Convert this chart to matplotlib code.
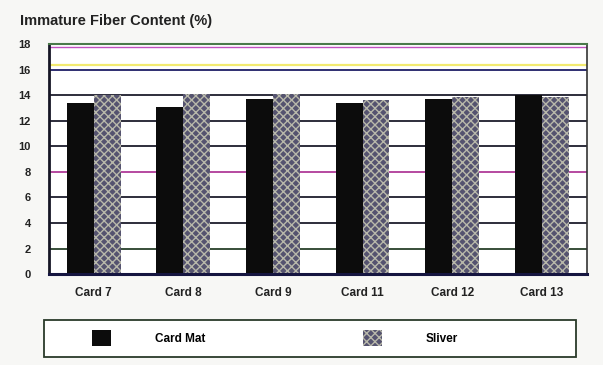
import matplotlib
matplotlib.use("Agg")
import matplotlib.pyplot as plt
from matplotlib.patches import Rectangle
import numpy as np

categories = ["Card 7", "Card 8", "Card 9", "Card 11", "Card 12", "Card 13"]
card_mat = [13.4, 13.1, 13.7, 13.4, 13.7, 14.0]
sliver = [14.0, 14.1, 14.1, 13.6, 13.9, 13.9]
series_names = ["Card Mat", "Sliver"]
yticks = [0, 2, 4, 6, 8, 10, 12, 14, 16, 18]

plt.rcParams["font.family"] = ["Liberation Sans", "DejaVu Sans"]
plt.rcParams["hatch.linewidth"] = 1.0

fig = plt.figure(figsize=(6.03, 3.65), dpi=100, facecolor="#f7f7f5")
ax = fig.add_axes([0.081, 0.249, 0.892, 0.630])
ax.set_facecolor("white")

x = np.arange(len(categories))
w = 0.30
ax.set_xlim(-0.5, len(categories) - 0.5)
ax.set_ylim(0, 18)

# coloured horizontal rules
grid_colors = {2: "#27402a", 4: "#1c1c2c", 6: "#1c1c2c", 8: "#b03a98",
               10: "#1c1c2c", 12: "#1c1c2c", 14: "#1c1c2c", 16: "#1e1e66"}
for yv, c in grid_colors.items():
    ax.axhline(yv, color=c, lw=1.3, zorder=1)
ax.axhline(16.35, color="#f2ea70", lw=1.6, zorder=1)
ax.axhline(17.8, color="#c050c0", lw=1.0, zorder=1)

ax.bar(x - w / 2, card_mat, w, color="#0c0c0c", zorder=2, label=series_names[0])
ax.bar(x + w / 2, sliver, w, color="#55536f", edgecolor="#b8b8aa",
       hatch="xxxx", linewidth=0, zorder=2, label=series_names[1])

ax.set_xticks(x)
ax.set_xticklabels(categories, fontsize=8.5, fontweight="bold", color="#222222")
ax.set_yticks(yticks)
ax.set_yticklabels([str(v) for v in yticks], fontsize=8, fontweight="bold",
                   color="#222222")
ax.tick_params(axis="both", length=0)
ax.tick_params(axis="x", pad=9)
ax.tick_params(axis="y", pad=13)

for side, c, lw in [("left", "#151525", 2.0), ("bottom", "#151540", 2.2),
                    ("top", "#4a7a4a", 1.5), ("right", "#333333", 1.2)]:
    ax.spines[side].set_color(c)
    ax.spines[side].set_linewidth(lw)

fig.text(0.033, 0.943, "Immature Fiber Content (%)", fontsize=10.5,
         fontweight="bold", color="#222222", ha="left", va="center")

# legend frame drawn as a figure rectangle, entries placed inside it
fig.patches.append(Rectangle((44 / 603, 1 - 357 / 365), 532 / 603, 37 / 365,
                             transform=fig.transFigure, facecolor="white",
                             edgecolor="#2a3a2a", linewidth=1.3, zorder=0))
leg = fig.legend(loc="center left", bbox_to_anchor=(92 / 603, 1 - 338 / 365),
                 ncol=2, frameon=False,
                 prop={"weight": "bold", "size": 8.5},
                 handlelength=1.6, handleheight=1.8, handletextpad=3.7,
                 borderpad=0, borderaxespad=0, columnspacing=13.4)

fig.savefig("out.png", dpi=100, facecolor=fig.get_facecolor())
